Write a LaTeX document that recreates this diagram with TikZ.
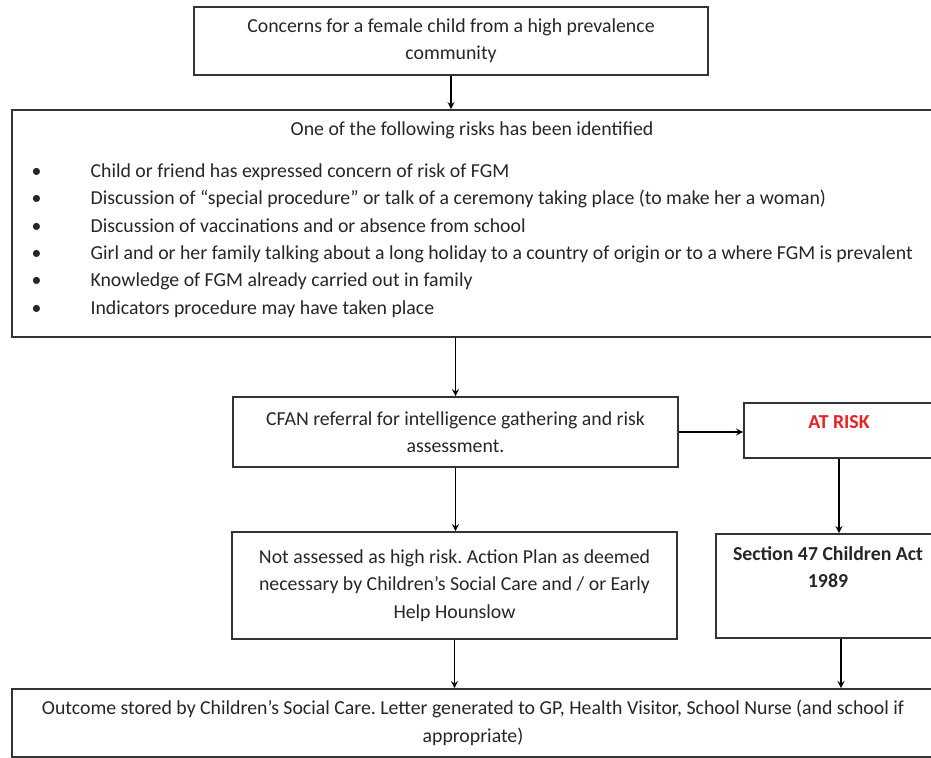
\documentclass[tikz,border=0pt]{standalone}
\usepackage{fontspec}
\setmainfont{Carlito}
\usepackage{tikz}
\usetikzlibrary{arrows}
\definecolor{RiskRed}{RGB}{236,32,36}
\frenchspacing

\begin{document}
\begin{tikzpicture}[x=0.5pt,y=-0.5pt,->,shorten >=0pt,auto,semithick]
        \tikzstyle{flownode}=[
            rectangle,
            draw=black!80,
            line width=0.8pt,
            align=center,
            inner sep=0pt,
            font=\fontsize{9.9}{13.7}\selectfont,
            text=black!85
        ]
        \tikzstyle{flowtext}=[
            inner sep=0pt,
            align=center,
            font=\fontsize{9.9}{13.7}\selectfont,
            text=black!85
        ]

        \useasboundingbox (0,0) rectangle (931,758);

        \node[flownode, minimum width=257pt, minimum height=34pt] (concern) at (451,41){Concerns for a female child from a high prevalence\\community};
        \node[flownode, minimum width=461pt, minimum height=113.5pt] (risks) at (473,223.5){};
        \node[flowtext] (risktitle) at (472,130){One of the following risks has been identified};
        \node[flowtext, align=left, anchor=north west] (risklist) at (31,163){%
            \makebox[29.5pt][l]{\textbullet}Child or friend has expressed concern of risk of FGM\\
            \makebox[29.5pt][l]{\textbullet}Discussion of “special procedure” or talk of a ceremony taking place (to make her a woman)\\
            \makebox[29.5pt][l]{\textbullet}Discussion of vaccinations and or absence from school\\
            \makebox[29.5pt][l]{\textbullet}Girl and or her family talking about a long holiday to a country of origin or to a where FGM is prevalent\\
            \makebox[29.5pt][l]{\textbullet}Knowledge of FGM already carried out in family\\
            \makebox[29.5pt][l]{\textbullet}Indicators procedure may have taken place};
        \node[flownode, minimum width=222.5pt, minimum height=35pt] (cfan) at (455.5,432){CFAN referral for intelligence gathering and risk\\assessment.};
        \node[flownode, minimum width=95pt, minimum height=27.5pt, font=\fontsize{9.9}{13.7}\selectfont\bfseries, text=RiskRed, text depth=8pt] (atrisk) at (839,430.5){AT RISK};
        \node[flownode, minimum width=222.5pt, minimum height=53.5pt] (noths) at (454.5,585.5){Not assessed as high risk. Action Plan as deemed\\necessary by Children’s Social Care and / or Early\\Help Hounslow};
        \node[flownode, minimum width=109pt, minimum height=52pt] (sect) at (825,586){};
        \node[flowtext, font=\fontsize{9.9}{13.7}\selectfont\bfseries] (secttext) at (828,567){Section 47 Children Act\\1989};
        \node[flownode, minimum width=461pt, minimum height=34pt] (outcome) at (473,723){Outcome stored by Children’s Social Care. Letter generated to GP, Health Visitor, School Nurse (and school if\\appropriate)};

        \draw[-stealth, line width=0.6pt] (concern.south) -- (concern.south |- risks.north);
        \draw[-stealth, line width=0.6pt] (risks.south -| cfan.north) -- (cfan.north);
        \draw[-stealth, line width=0.6pt] (cfan.east) -- (atrisk.west |- cfan.east);
        \draw[-stealth, line width=0.6pt] (cfan.south) -- (noths.north -| cfan.south);
        \draw[-stealth, line width=0.6pt] (atrisk.south) -- (atrisk.south |- sect.north);
        \draw[-stealth, line width=0.6pt] (noths.south) -- (noths.south |- outcome.north);
        \draw[-stealth, line width=0.6pt] ([xshift=1pt]atrisk.south |- sect.south) -- ([xshift=1pt]atrisk.south |- outcome.north);

    \end{tikzpicture}
\end{document}
